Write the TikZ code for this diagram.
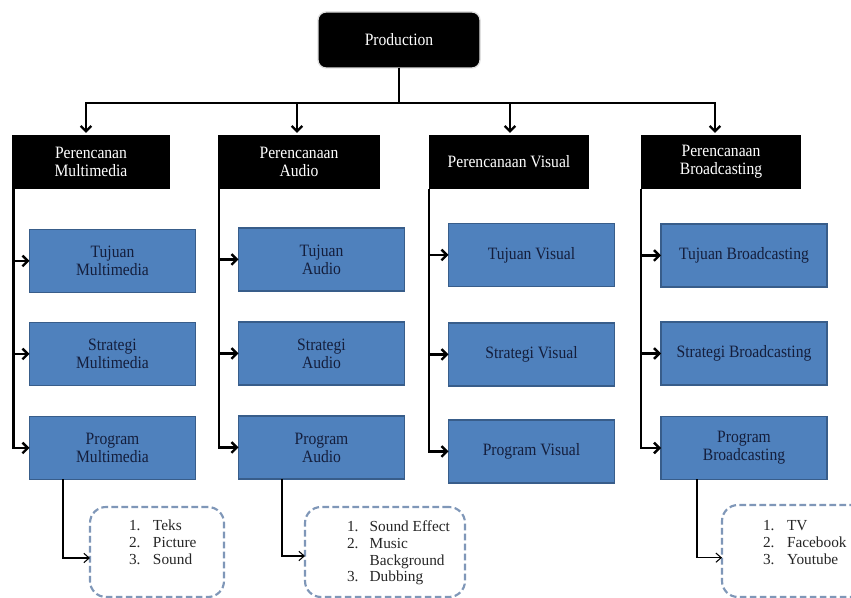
\documentclass[tikz,border=0pt]{standalone}
\usepackage{fontspec}
\setmainfont{Liberation Serif}[FakeStretch=0.9]
\newfontfamily\listfont{Liberation Serif}
\usetikzlibrary{arrows.meta}
\definecolor{boxblue}{HTML}{4F81BD}
\definecolor{boxedge}{HTML}{385D8A}
\definecolor{dashedge}{HTML}{7F97B8}
\definecolor{navytext}{HTML}{141E3C}
\begin{document}
\begin{tikzpicture}[x=0.75pt,y=-0.75pt,
 every node/.style={inner sep=0pt, outer sep=0pt},
 mainfont/.style={font=\fontsize{13}{13.5}\selectfont},
 prodbox/.style={fill=black, draw=gray!25, line width=1pt, rounded corners=6pt, minimum width=121.5pt, minimum height=42pt, text=white, align=center, mainfont},
 headbox/.style={fill=black, minimum height=40.5pt, text=white, align=center, mainfont},
 bluebox/.style={fill=boxblue, draw=boxedge, line width=1.1pt, minimum width=124.5pt, minimum height=47.25pt, text=navytext, align=center, mainfont},
 dashbox/.style={draw=dashedge, dash pattern=on 5pt off 2.5pt, line width=1.6pt, rounded corners=12pt},
 listtext/.style={anchor=base west, font=\listfont\fontsize{11.5}{12.5}\selectfont, text=black!85},
 conn/.style={line width=1.8pt},
 arr/.style={line width=1.8pt, shorten >=1.5pt, -{Straight Barb[length=4pt,width=8pt,line width=1.8pt]}},
 subarr/.style={line width=1.8pt, -{Straight Barb[length=4pt,width=8pt,line width=1.8pt]}},
 thinarr/.style={line width=0.8pt, -{Straight Barb[length=4pt,width=7pt,line width=0.8pt]}}
]
\useasboundingbox (0,0) rectangle (851,598);
\fill[white] (0,0) rectangle (851,598);
\clip (0,0) rectangle (851,598);

% top
\node[prodbox] (prod) at (399,40) {Production};

\node[headbox, minimum width=118.5pt] (hm) at (91,162) {Perencanan\\Multimedia};
\node[headbox, minimum width=121.5pt] (ha) at (299,162) {Perencanaan\\Audio};
\node[headbox, minimum width=120pt] (hv) at (509,162) {Perencanaan Visual};
\node[headbox, minimum width=120pt] (hb) at (721,162) {Perencanaan\\Broadcasting};

\coordinate (b1) at (86,103);
\coordinate (b2) at (297,103);
\coordinate (b3) at (510,103);
\coordinate (b4) at (715,103);
\draw[arr] (prod.south) -- (prod.south |- b1) -| (b1 |- hm.north);
\draw[arr] (prod.south) -- (prod.south |- b2) -| (b2 |- ha.north);
\draw[arr] (prod.south) -- (prod.south |- b3) -| (b3 |- hv.north);
\draw[arr] (prod.south) -- (prod.south |- b4) -| (b4 |- hb.north);

% blue boxes
\node[bluebox] (tm) at (112.5,261) {Tujuan\\Multimedia};
\node[bluebox] (sm) at (112.5,354) {Strategi\\Multimedia};
\node[bluebox] (pm) at (112.5,448) {Program\\Multimedia};

\node[bluebox] (ta) at (321.5,259.5) {Tujuan\\Audio};
\node[bluebox] (sa) at (321.5,353.5) {Strategi\\Audio};
\node[bluebox] (pa) at (321.5,447.5) {Program\\Audio};

\node[bluebox] (tv) at (531.5,255) {Tujuan Visual};
\node[bluebox] (sv) at (531.5,354.5) {Strategi Visual};
\node[bluebox] (pv) at (531.5,451.5) {Program Visual};

\node[bluebox] (tb) at (744,255.5) {Tujuan Broadcasting};
\node[bluebox] (sb) at (744,353.5) {Strategi Broadcasting};
\node[bluebox] (pb) at (744,448) {Program\\Broadcasting};

% vertical spines
\coordinate (vm) at (13.5,0);
\coordinate (va) at (219,0);
\coordinate (vv) at (429,0);
\coordinate (vb) at (641,0);

\draw[subarr] (vm |- hm.south) |- (pm.west);
\draw[subarr] (vm |- tm.west) -- (tm.west);
\draw[subarr] (vm |- sm.west) -- (sm.west);

\draw[subarr] (va |- ha.south) |- (pa.west);
\draw[subarr] (va |- ta.west) -- (ta.west);
\draw[subarr] (va |- sa.west) -- (sa.west);

\draw[subarr] (vv |- hv.south) |- (pv.west);
\draw[subarr] (vv |- tv.west) -- (tv.west);
\draw[subarr] (vv |- sv.west) -- (sv.west);

\draw[subarr] (vb |- hb.south) |- (pb.west);
\draw[subarr] (vb |- tb.west) -- (tb.west);
\draw[subarr] (vb |- sb.west) -- (sb.west);

% dashed boxes
\node[dashbox, minimum width=100.5pt, minimum height=67.5pt] (dm) at (157,552) {};
\node[dashbox, minimum width=120pt, minimum height=67.5pt] (da) at (385,552) {};
\node[dashbox, minimum width=112.5pt, minimum height=69pt] (db) at (797,551) {};

\node[listtext] (lm) at (129,531) {\begin{tabular}[t]{@{}p{18pt}@{}l@{}}1. & Teks\\ 2. & Picture\\ 3. & Sound\end{tabular}};
\node[listtext] (la) at (347,532) {\begin{tabular}[t]{@{}p{17pt}@{}l@{}}1. & Sound Effect\\ 2. & Music\\ & Background\\ 3. & Dubbing\end{tabular}};
\node[listtext] (lb) at (763,531) {\begin{tabular}[t]{@{}p{18pt}@{}l@{}}1. & TV\\ 2. & Facebook\\ 3. & Youtube\end{tabular}};

\coordinate (cm) at (63,0);
\coordinate (ca) at (282,0);
\coordinate (cb) at (697,0);
\draw[thinarr] (cm |- pm.south) |- ([yshift=-4.5pt]dm.west);
\draw[thinarr] (ca |- pa.south) |- ([yshift=-3pt]da.west);
\draw[thinarr] (cb |- pb.south) |- ([yshift=-5pt]db.west);
\end{tikzpicture}
\end{document}
